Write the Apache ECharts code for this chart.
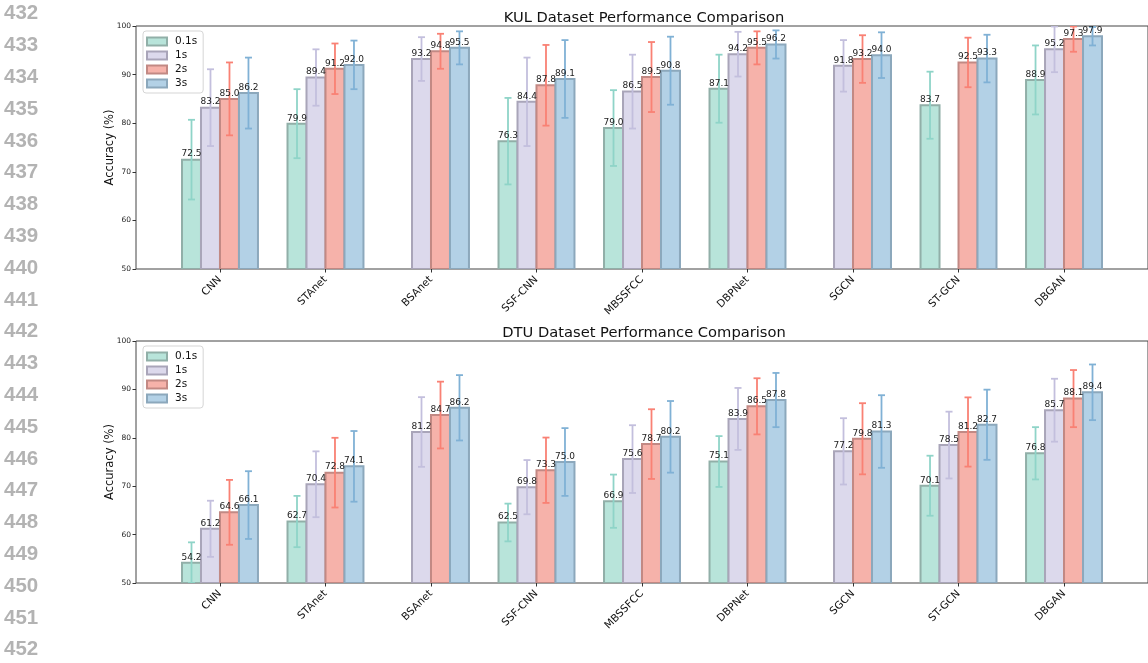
<!DOCTYPE html>
<html><head><meta charset="utf-8">
<script src="https://cdn.jsdelivr.net/npm/echarts@6/dist/echarts.min.js"></script>
<style>html,body{margin:0;padding:0;background:#fff}#c{width:1148px;height:663px}</style>
</head><body><div id="c"></div>
<script>
// ---------- data ----------
const categories = ['CNN','STAnet','BSAnet','SSF-CNN','MBSSFCC','DBPNet','SGCN','ST-GCN','DBGAN'];
const windows = ['0.1s','1s','2s','3s'];
const yTicks = [50,60,70,80,90,100];
const lineNumbers = [432,433,434,435,436,437,438,439,440,441,442,443,444,445,446,447,448,449,450,451,452];
const titleKUL = 'KUL Dataset Performance Comparison';
const titleDTU = 'DTU Dataset Performance Comparison';
const yName = 'Accuracy (%)';

const kul_01 = [72.5, 79.9, null, 76.3, 79.0, 87.1, null, 83.7, 88.9];
const kul_1  = [83.2, 89.4, 93.2, 84.4, 86.5, 94.2, 91.8, null, 95.2];
const kul_2  = [85.0, 91.2, 94.8, 87.8, 89.5, 95.5, 93.2, 92.5, 97.3];
const kul_3  = [86.2, 92.0, 95.5, 89.1, 90.8, 96.2, 94.0, 93.3, 97.9];
const kulErr_01 = [8.2, 7.1, null, 8.9, 7.8, 7.0, null, 6.9, 7.1];
const kulErr_1  = [7.9, 5.8, 4.5, 9.1, 7.6, 4.6, 5.3, null, 4.7];
const kulErr_2  = [7.5, 5.2, 3.6, 8.3, 7.2, 3.4, 4.9, 5.1, 2.6];
const kulErr_3  = [7.3, 5.0, 3.4, 8.0, 7.0, 2.9, 4.7, 4.9, 1.9];

const dtu_01 = [54.2, 62.7, null, 62.5, 66.9, 75.1, null, 70.1, 76.8];
const dtu_1  = [61.2, 70.4, 81.2, 69.8, 75.6, 83.9, 77.2, 78.5, 85.7];
const dtu_2  = [64.6, 72.8, 84.7, 73.3, 78.7, 86.5, 79.8, 81.2, 88.1];
const dtu_3  = [66.1, 74.1, 86.2, 75.0, 80.2, 87.8, 81.3, 82.7, 89.4];
const dtuErr_01 = [4.2, 5.3, null, 3.9, 5.5, 5.25, null, 6.2, 5.4];
const dtuErr_1  = [5.8, 6.8, 7.2, 5.6, 7.0, 6.4, 6.85, 6.9, 6.5];
const dtuErr_2  = [6.7, 7.2, 6.9, 6.75, 7.2, 5.8, 7.35, 7.15, 5.9];
const dtuErr_3  = [7.0, 7.3, 6.75, 7.0, 7.4, 5.6, 7.5, 7.25, 5.75];

// ---------- styling ----------
const FILL = ['#b8e4da', '#dcd9ec', '#f6b2aa', '#b3d1e6'];
const EDGE = ['#91afa8', '#a9a5b9', '#c28984', '#8ca8bc'];
const ERRC = ['#8fd4c8', '#c3bfdd', '#f98174', '#80b1d5'];
const BW = 0.18;
const XMIN = -0.796, XMAX = 8.796;
const FONT = '"DejaVu Sans", sans-serif';

const chart = echarts.init(document.getElementById('c'), null, {renderer: 'canvas'});

const kulVals = [kul_01, kul_1, kul_2, kul_3];
const kulErrs = [kulErr_01, kulErr_1, kulErr_2, kulErr_3];
const dtuVals = [dtu_01, dtu_1, dtu_2, dtu_3];
const dtuErrs = [dtuErr_01, dtuErr_1, dtuErr_2, dtuErr_3];

function mkData(vals, errs) {
  return categories.map((c, i) => [i, vals[i] == null ? NaN : vals[i], errs[i] == null ? 0 : errs[i]]);
}

function barRender(j) {
  return function (params, api) {
    const i = api.value(0), v = api.value(1);
    if (v == null || isNaN(v)) return null;
    const off = (j - 1.5) * BW;
    const p0 = api.coord([i + off - BW / 2, v]);
    const p1 = api.coord([i + off + BW / 2, 50]);
    return {type: 'rect', shape: {x: p0[0], y: p0[1], width: p1[0] - p0[0], height: p1[1] - p0[1]},
      style: {fill: FILL[j], stroke: EDGE[j], lineWidth: 2}};
  };
}
function errRender(j) {
  return function (params, api) {
    const i = api.value(0), v = api.value(1), e = api.value(2);
    if (v == null || isNaN(v)) return null;
    const x = i + (j - 1.5) * BW;
    const top = api.coord([x, v + e]);
    const bot = api.coord([x, v - e]);
    const cw = 3.5;
    const st = {stroke: ERRC[j], lineWidth: 1.8};
    return {type: 'group', children: [
      {type: 'line', shape: {x1: top[0], y1: top[1], x2: bot[0], y2: bot[1]}, style: st},
      {type: 'line', shape: {x1: top[0] - cw, y1: top[1], x2: top[0] + cw, y2: top[1]}, style: st},
      {type: 'line', shape: {x1: bot[0] - cw, y1: bot[1], x2: bot[0] + cw, y2: bot[1]}, style: st}
    ]};
  };
}
function labelRender(j) {
  return function (params, api) {
    const i = api.value(0), v = api.value(1);
    if (v == null || isNaN(v)) return null;
    const p = api.coord([i + (j - 1.5) * BW, v]);
    return {type: 'text', x: p[0], y: p[1] - 1,
      style: {text: v.toFixed(1), fill: '#222', font: '9px ' + FONT, textAlign: 'center', textVerticalAlign: 'bottom'}};
  };
}

const grids = [
  {left: 136, top: 26, width: 1014, height: 243},
  {left: 136, top: 341, width: 1014, height: 242}
];

function xAxis(g) {
  return {type: 'value', gridIndex: g, min: XMIN, max: XMAX,
    splitLine: {show: false}, axisLine: {show: false, onZero: false},
    axisTick: {show: true, customValues: categories.map((c, i) => i), length: 3.5, lineStyle: {color: '#333'}},
    axisLabel: {customValues: categories.map((c, i) => i), rotate: 45, margin: 9,
      formatter: v => categories[Math.round(v)], fontFamily: FONT, fontSize: 10.5, color: '#111'}};
}
function yAxis(g) {
  return {type: 'value', gridIndex: g, min: yTicks[0], max: yTicks[yTicks.length - 1], interval: 10,
    name: yName, nameLocation: 'middle', nameGap: 20, nameRotate: 90, nameMoveOverlap: false,
    nameTextStyle: {fontFamily: FONT, fontSize: 11.5, color: '#111'},
    splitLine: {show: false}, axisLine: {show: false, onZero: false},
    axisTick: {show: true, length: 3.5, lineStyle: {color: '#333'}},
    axisLabel: {fontFamily: FONT, fontSize: 7.5, color: '#222', margin: 5}};
}

const series = [];
[[kulVals, kulErrs, 0], [dtuVals, dtuErrs, 1]].forEach(([vals, errs, g]) => {
  windows.forEach((w, j) => {
    const data = mkData(vals[j], errs[j]);
    series.push({type: 'custom', name: w, xAxisIndex: g, yAxisIndex: g, clip: true, z: 2,
      itemStyle: {color: FILL[j], borderColor: EDGE[j], borderWidth: 2},
      renderItem: barRender(j), data: data, encode: {x: 0, y: 1}});
  });
  windows.forEach((w, j) => {
    const data = mkData(vals[j], errs[j]);
    series.push({type: 'custom', name: 'err ' + w, xAxisIndex: g, yAxisIndex: g, clip: true, z: 3,
      renderItem: errRender(j), data: data, encode: {x: 0, y: 1}});
  });
  windows.forEach((w, j) => {
    const data = mkData(vals[j], errs[j]);
    series.push({type: 'custom', name: 'lbl ' + w, xAxisIndex: g, yAxisIndex: g, clip: false, z: 4,
      renderItem: labelRender(j), data: data, encode: {x: 0, y: 1}});
  });
});

function legend(top) {
  return {orient: 'vertical', left: 143, top: top, itemWidth: 20, itemHeight: 8, itemGap: 3,
    padding: [5, 6, 4, 3], backgroundColor: '#fff', borderColor: '#d5d5d5', borderWidth: 1, borderRadius: 3,
    selectedMode: false,
    textStyle: {fontFamily: FONT, fontSize: 10.5, color: '#111', padding: [0, 0, 0, 3]},
    data: windows.map((w, j) => ({name: w, icon: 'rect', itemStyle: {color: FILL[j], borderColor: EDGE[j], borderWidth: 2}}))};
}

const graphics = lineNumbers.map((n, k) => ({
  type: 'text', left: 4, top: 13.3 + k * 31.8 - 10,
  style: {text: String(n), fill: '#b3b3b3', font: 'bold 20.5px "Liberation Sans", Arial, sans-serif'}
}));

chart.setOption({
  animation: false,
  title: [
    {text: titleKUL, left: 639, top: 6, textAlign: 'center', textStyle: {fontFamily: FONT, fontSize: 14.7, fontWeight: 'normal', color: '#111'}},
    {text: titleDTU, left: 639, top: 321, textAlign: 'center', textStyle: {fontFamily: FONT, fontSize: 14.7, fontWeight: 'normal', color: '#111'}}
  ],
  grid: grids.map(g => Object.assign({show: true, borderColor: '#444', borderWidth: 1, backgroundColor: 'transparent'}, g)),
  xAxis: [xAxis(0), xAxis(1)],
  yAxis: [yAxis(0), yAxis(1)],
  legend: [legend(31), legend(346)],
  graphic: graphics,
  series: series
});
</script></body></html>
